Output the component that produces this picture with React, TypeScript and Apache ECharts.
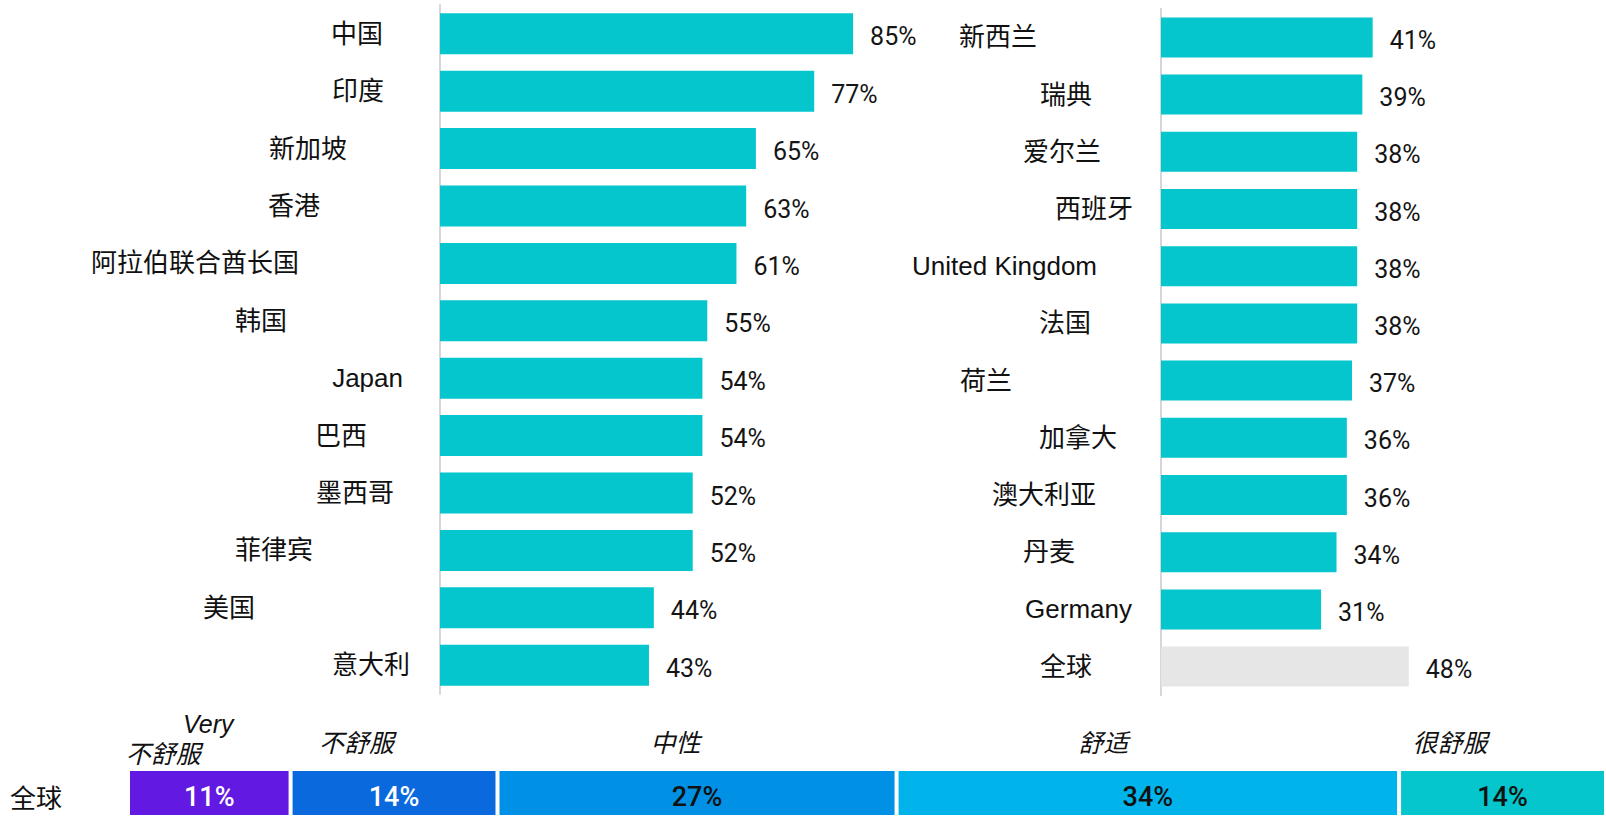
import React, { useEffect, useRef } from "react";
import * as echarts from "echarts";

// ---------- data ----------
const leftCountries = ["中国", "印度", "新加坡", "香港", "阿拉伯联合酋长国", "韩国", "Japan", "巴西", "墨西哥", "菲律宾", "美国", "意大利"];
const leftValues = [85, 77, 65, 63, 61, 55, 54, 54, 52, 52, 44, 43];
const rightCountries = ["新西兰", "瑞典", "爱尔兰", "西班牙", "United Kingdom", "法国", "荷兰", "加拿大", "澳大利亚", "丹麦", "Germany", "全球"];
const rightValues = [41, 39, 38, 38, 38, 38, 37, 36, 36, 34, 31, 48];
const globalName = "全球";
const comfortLevels = ["Very\n不舒服", "不舒服", "中性", "舒适", "很舒服"];
const comfortShares = [11, 14, 27, 34, 14];

// ---------- layout / style ----------
const LEFT_LABEL_GAPS = [57, 56, 93, 120, 141, 153, 37, 73, 46, 127, 185, 30];
const RIGHT_LABEL_GAPS = [124, 69, 60, 28, 64, 70, 149, 44, 65, 86, 29, 69];
const BAR_COLOR = "#05C6CD";
const GLOBAL_COLOR = "#E6E6E6";
const SEG_COLORS = ["#6219E2", "#0A6ADD", "#0090E6", "#00B4EB", "#05C6CD"];
const SEG_TEXT = ["#ffffff", "#ffffff", "#111111", "#111111", "#111111"];
const HEADER_DX = [-46, -37.5, -21.5, -44.5, -52.5];
const HEADER_DIST = [0, 11, 11, 11, 11];
const CAT_FONT = "'Liberation Sans', 'Noto Sans CJK SC', sans-serif";
const VAL_FONT = "Roboto, 'Noto Sans CJK SC', sans-serif";
const TEXT = "#111111";
const CAT_SIZE = 26;

function makeRich(gaps: number[]) {
  const rich: Record<string, any> = {};
  gaps.forEach((g, i) => {
    rich["g" + i] = { padding: [0, g, 0, 0], fontSize: CAT_SIZE, fontFamily: CAT_FONT, color: TEXT };
  });
  return rich;
}

function valueLabel() {
  return {
    show: true,
    position: "right",
    distance: 17,
    offset: [0, 3],
    formatter: "{c}%",
    fontSize: 25,
    fontFamily: VAL_FONT,
    color: "#151515",
  };
}

export default function App() {
  const ref = useRef<HTMLDivElement>(null);

  useEffect(() => {
    if (!ref.current) return;
    const chart = echarts.init(ref.current, undefined, { renderer: "svg" });

    const segSeries = comfortLevels.map((name, i) => ({
      type: "bar",
      name,
      stack: "share",
      xAxisIndex: 2,
      yAxisIndex: 2,
      barWidth: 48,
      barGap: "-100%",
      data: [comfortShares[i]],
      itemStyle: { color: SEG_COLORS[i], borderColor: "#ffffff", borderWidth: 2 },
      label: {
        show: true,
        position: "inside",
        offset: [0, 4],
        formatter: "{c}%",
        fontSize: 27,
        fontWeight: 500,
        fontFamily: VAL_FONT,
        color: SEG_TEXT[i],
      },
    }));

    const headerSeries = comfortLevels.map((name, i) => {
      const parts = name.split("\n");
      const formatter =
        parts.length > 1 ? `{v|${parts[0]}}\n{n|${parts[1]}}` : `{n|${parts[0]}}`;
      return {
        type: "bar",
        name: "hdr" + i,
        stack: "hdr",
        silent: true,
        xAxisIndex: 2,
        yAxisIndex: 2,
        barWidth: 48,
        barGap: "-100%",
        data: [comfortShares[i]],
        itemStyle: { color: "rgba(0,0,0,0)" },
        label: {
          show: true,
          position: "top",
          distance: HEADER_DIST[i],
          offset: [HEADER_DX[i], 0],
          formatter,
          rich: {
            v: { fontSize: 25, fontStyle: "italic", fontFamily: CAT_FONT, color: TEXT, padding: [0, 0, 0, 90], lineHeight: 30 },
            n: { fontSize: 25, fontStyle: "italic", fontFamily: CAT_FONT, color: TEXT, lineHeight: 30 },
          },
        },
      };
    });

    chart.setOption({
      animation: false,
      backgroundColor: "#ffffff",
      grid: [
        { left: 440, top: 5.1, width: 486, height: 688.8 },
        { left: 1161, top: 8.8, width: 413, height: 686.4 },
        { left: 128, top: 769, width: 1478, height: 48 },
      ],
      xAxis: [
        { type: "value", gridIndex: 0, min: 0, max: 100, show: false },
        { type: "value", gridIndex: 1, min: 0, max: 80, show: false },
        { type: "value", gridIndex: 2, min: 0, max: 100, show: false },
      ],
      yAxis: [
        {
          type: "category",
          gridIndex: 0,
          inverse: true,
          data: leftCountries,
          axisLine: { show: true, lineStyle: { color: "#d6d6d6", width: 2 } },
          axisTick: { show: false },
          axisLabel: {
            margin: 0,
            fontSize: CAT_SIZE,
            fontFamily: CAT_FONT,
            color: TEXT,
            formatter: (v: string, i: number) => `{g${i}|${v}}`,
            rich: makeRich(LEFT_LABEL_GAPS),
          },
        },
        {
          type: "category",
          gridIndex: 1,
          inverse: true,
          data: rightCountries,
          axisLine: { show: true, lineStyle: { color: "#d6d6d6", width: 2 } },
          axisTick: { show: false },
          axisLabel: {
            margin: 0,
            fontSize: CAT_SIZE,
            fontFamily: CAT_FONT,
            color: TEXT,
            formatter: (v: string, i: number) => `{g${i}|${v}}`,
            rich: makeRich(RIGHT_LABEL_GAPS),
          },
        },
        {
          type: "category",
          gridIndex: 2,
          data: [globalName],
          axisLine: { show: false },
          axisTick: { show: false },
          axisLabel: {
            margin: 66,
            fontSize: CAT_SIZE,
            fontFamily: CAT_FONT,
            color: TEXT,
            formatter: (v: string) => `{d|${v}}`,
            rich: {
              d: { fontSize: CAT_SIZE, fontFamily: CAT_FONT, color: TEXT, padding: [12, 0, 0, 0] },
            },
          },
        },
      ],
      series: [
        {
          type: "bar",
          xAxisIndex: 0,
          yAxisIndex: 0,
          barWidth: 41,
          data: leftValues,
          itemStyle: { color: BAR_COLOR },
          label: valueLabel(),
        },
        {
          type: "bar",
          xAxisIndex: 1,
          yAxisIndex: 1,
          barWidth: 40,
          data: rightValues.map((v, i) =>
            rightCountries[i] === globalName ? { value: v, itemStyle: { color: GLOBAL_COLOR } } : v
          ),
          itemStyle: { color: BAR_COLOR },
          label: valueLabel(),
        },
        ...segSeries,
        ...headerSeries,
      ],
    });

    return () => chart.dispose();
  }, []);

  return (
    <div
      ref={ref}
      style={{ position: "fixed", left: 0, top: 0, width: "1606px", height: "817px", overflow: "hidden" }}
    />
  );
}
